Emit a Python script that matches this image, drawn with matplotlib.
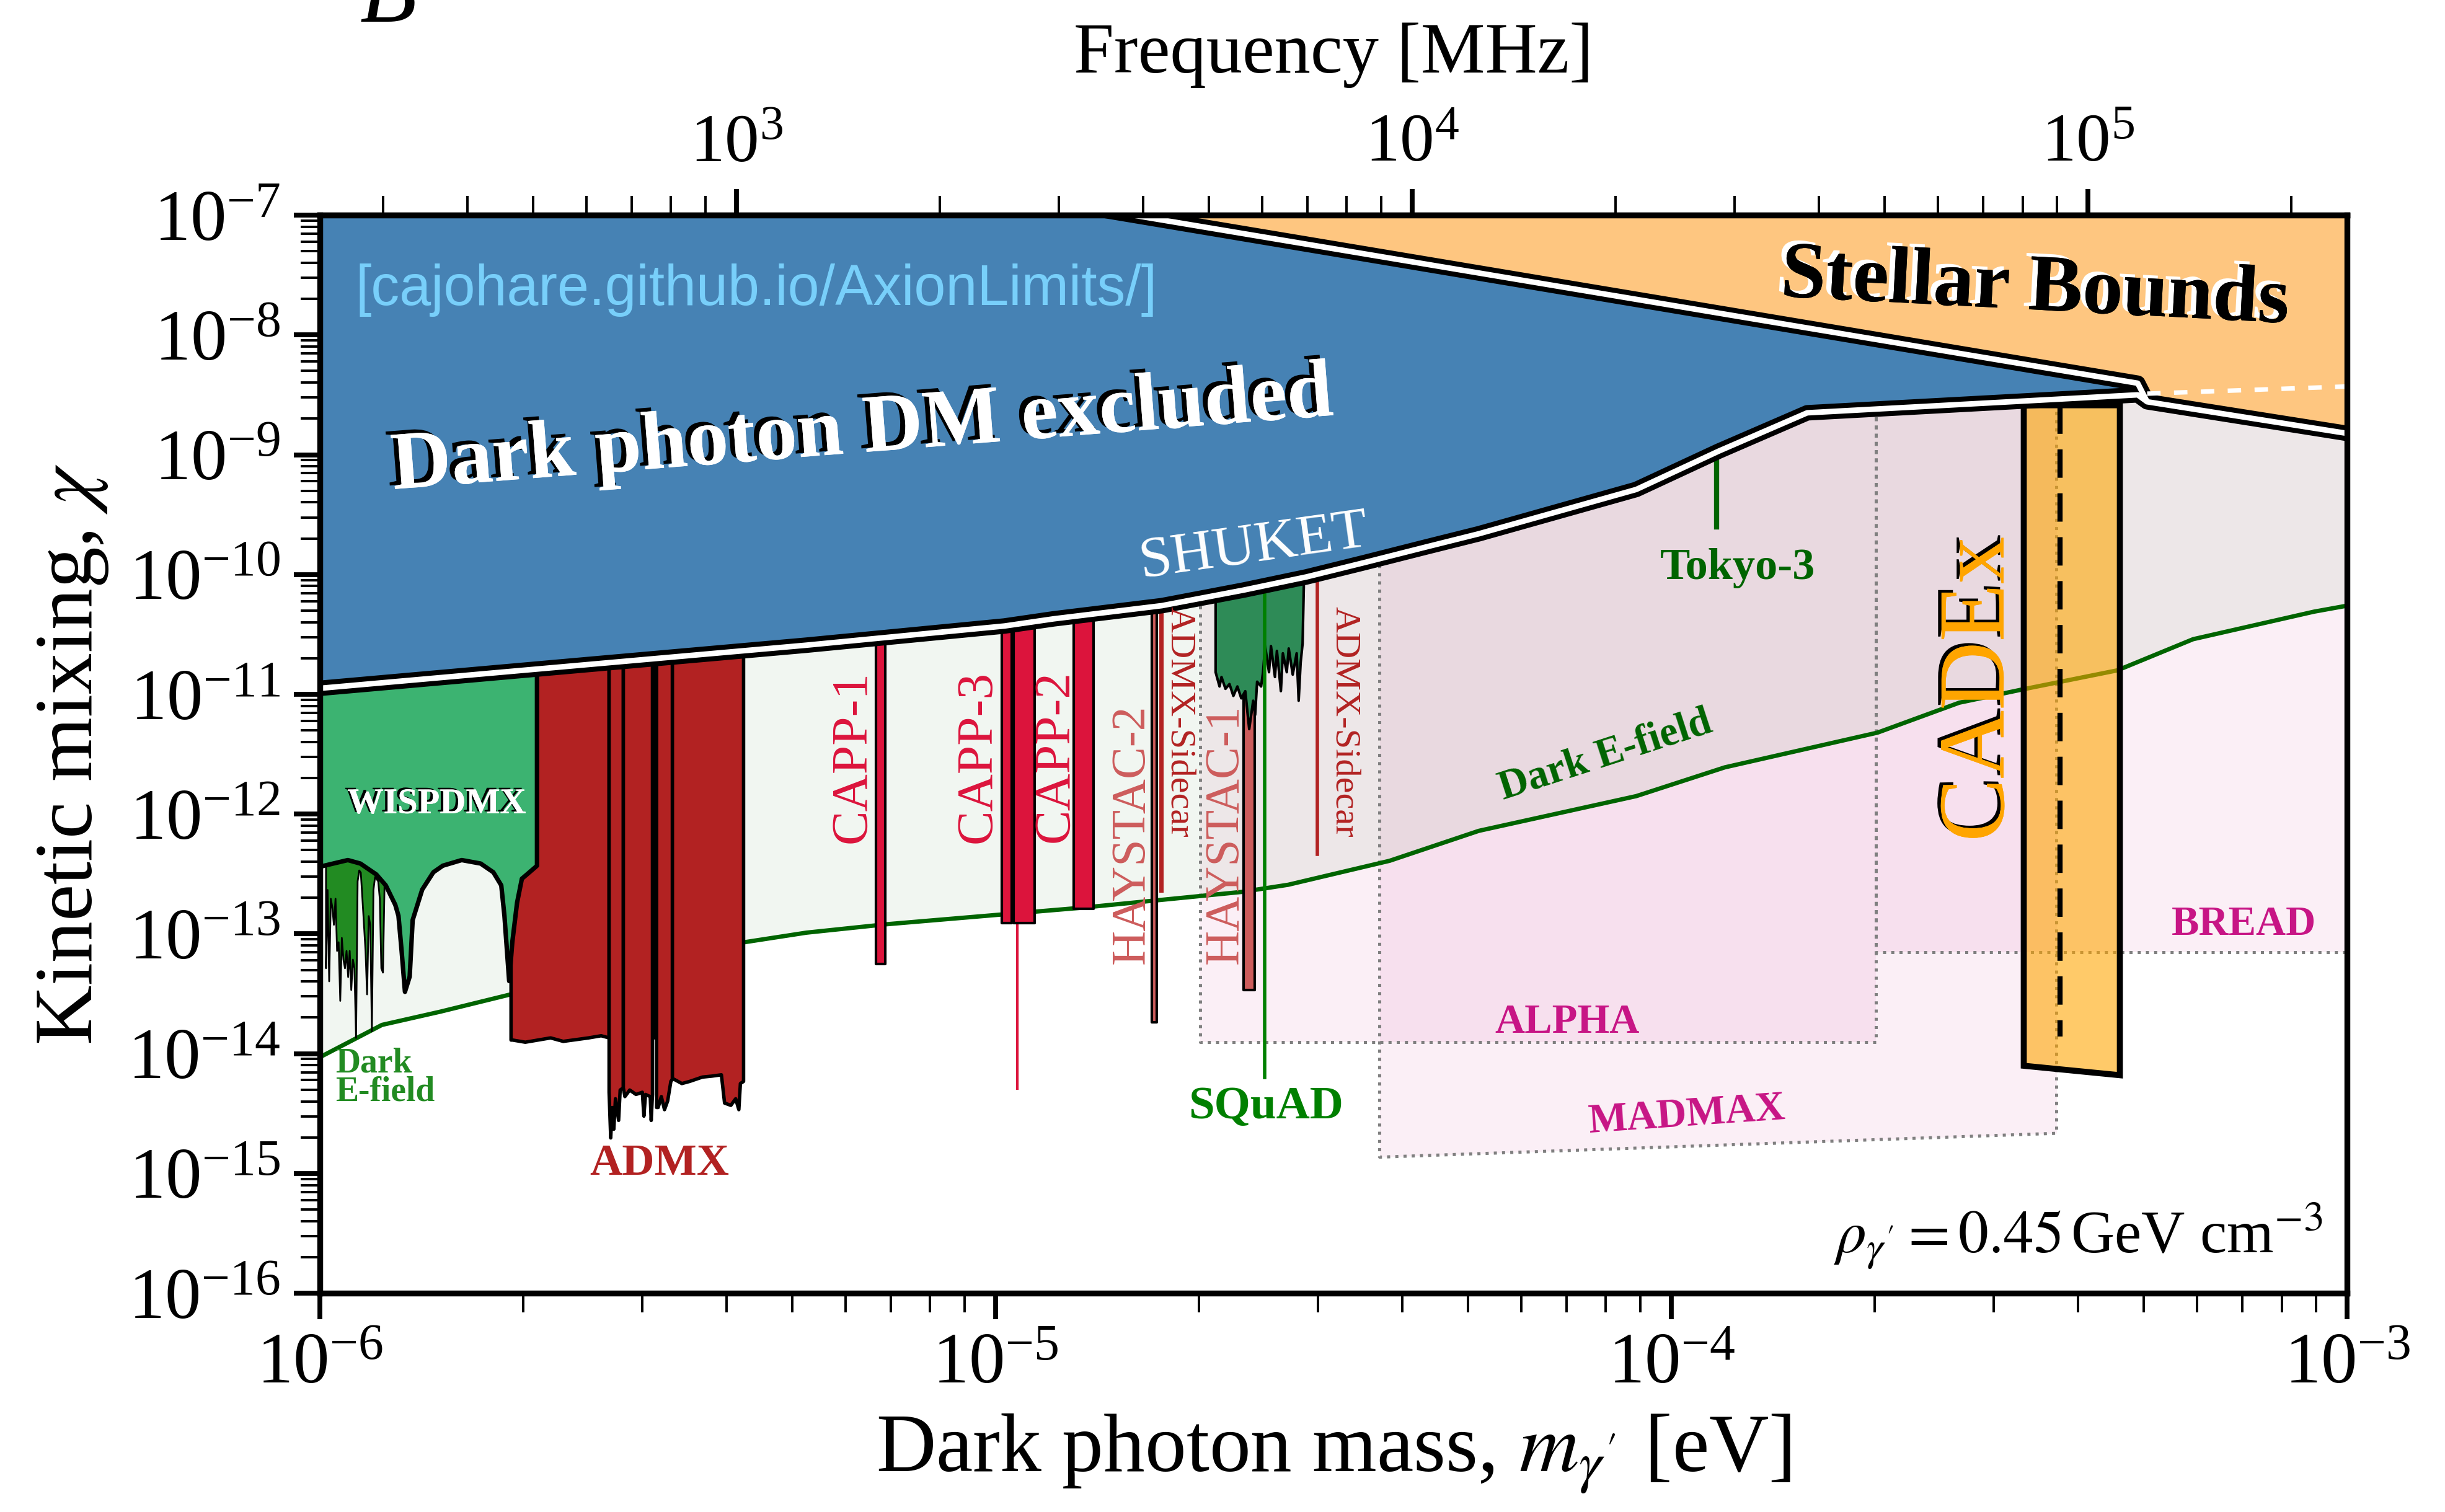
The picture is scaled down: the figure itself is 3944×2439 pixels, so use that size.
import numpy as np
import matplotlib
matplotlib.use("Agg")
import matplotlib.pyplot as plt
import matplotlib.patheffects as pe
from matplotlib.ticker import LogLocator, NullFormatter, FixedLocator

plt.rcParams["font.family"] = "serif"
plt.rcParams["font.serif"] = ["Liberation Serif", "DejaVu Serif"]
plt.rcParams["mathtext.fontset"] = "stix"

# all values are log10(mass / eV) and log10(chi)

# lower edge of the "dark photon DM excluded" region
excl_logm = [-6.0, -5.6, -5.28, -4.987, -4.914, -4.754, -4.633, -4.54, -4.454,
             -4.363, -4.285, -4.052, -3.93, -3.799, -3.31]
excl_logchi = [-10.95, -10.75, -10.59, -10.43, -10.37, -10.26, -10.13, -10.02, -9.90,
               -9.77, -9.66, -9.29, -8.97, -8.65, -8.50]

# stellar bound: upper branch down to the kink, then continuing branch
stellar_logm = [-5.0, -4.786, -3.310, -3.296, -3.0]
stellar_logchi = [-6.808, -7.01, -8.403, -8.558, -8.822]
stellar_dash_logm = [-3.296, -3.0]
stellar_dash_logchi = [-8.49, -8.43]

# dark E-field
efield_logm = [-6.0, -5.908, -5.822, -5.721, -5.372, -5.280, -5.162, -4.869, -4.636,
               -4.567, -4.417, -4.285, -4.052, -3.921, -3.695, -3.574, -3.481,
               -3.340, -3.228, -3.049, -3.0]
efield_logchi = [-14.03, -13.76, -13.65, -13.51, -13.07, -12.99, -12.92, -12.78, -12.65,
                 -12.59, -12.39, -12.14, -11.85, -11.61, -11.32, -11.07, -10.96,
                 -10.80, -10.54, -10.31, -10.26]

# dark E-field spikes at the low mass end
spike_logm = [-5.9913, -5.9889, -5.9866, -5.9842, -5.9819, -5.9796, -5.9772, -5.9749,
              -5.9726, -5.9702, -5.9679, -5.9655, -5.9632, -5.9609, -5.9585, -5.9562,
              -5.9539, -5.9515, -5.9492, -5.9468, -5.9445, -5.9421, -5.9398, -5.9374,
              -5.9351, -5.9328, -5.9305, -5.9281, -5.9258, -5.9234, -5.9211, -5.9187,
              -5.9140, -5.9117, -5.9094, -5.9070, -5.9047]
spike_logchi = [-13.285, -12.631, -13.394, -12.704, -12.776, -12.922, -12.704, -13.140,
                -13.067, -13.557, -13.031, -13.212, -13.285, -13.140, -13.358, -13.140,
                -13.466, -13.212, -13.285, -13.866, -12.559, -12.468, -12.486, -12.704,
                -12.922, -13.140, -13.503, -12.849, -12.922, -13.811, -12.631, -12.522,
                -12.559, -12.704, -13.285, -13.321, -12.595]

# WISPDMX
wisp_logm = [-6.0, -5.9936, -5.9585, -5.940, -5.9164, -5.9024, -5.8883, -5.8836, -5.879,
             -5.874, -5.867, -5.8626, -5.8485, -5.832, -5.818, -5.790, -5.762, -5.7432,
             -5.7315, -5.7268, -5.7198, -5.7151, -5.7081, -5.701, -5.6824, -5.6786]
wisp_logchi = [-12.44, -12.431, -12.384, -12.413, -12.504, -12.595, -12.758, -12.849,
               -13.139, -13.484, -13.357, -12.885, -12.631, -12.486, -12.431, -12.384,
               -12.413, -12.486, -12.595, -12.849, -13.394, -13.067, -12.740, -12.540,
               -12.450, -12.431]

# ADMX segments (mass, lower edge)
admx_a_logm = [-5.7175, -5.7151, -5.6964, -5.6589, -5.6402, -5.6028, -5.5841, -5.5724]
admx_a_logchi = [-13.884, -13.884, -13.902, -13.866, -13.895, -13.866, -13.848, -13.866]
admx_b_logm = [-5.5724, -5.5700, -5.5677, -5.5654, -5.5630, -5.5583, -5.5560, -5.5513]
admx_b_logchi = [-14.320, -14.701, -14.447, -14.628, -14.374, -14.555, -14.301, -14.283]
admx_c_logm = [-5.5513, -5.5490, -5.5419, -5.5326, -5.5232, -5.5209, -5.5185, -5.5115,
               -5.5101, -5.5082]
admx_c_logchi = [-14.283, -14.356, -14.301, -14.338, -14.320, -14.519, -14.338, -14.356,
                 -14.555, -14.338]
admx_d_logm = [-5.5068, -5.5031]
admx_d_logchi = [-13.866, -13.866]
admx_e_logm = [-5.5021, -5.4998, -5.4951, -5.4904, -5.4857, -5.4810, -5.4787]
admx_e_logchi = [-14.447, -14.447, -14.356, -14.465, -14.392, -14.229, -14.211]
admx_f_logm = [-5.4787, -5.4764, -5.4647, -5.4530, -5.4343, -5.4202, -5.4062, -5.4015,
               -5.3922, -5.3851, -5.3804, -5.3781, -5.3734]
admx_f_logchi = [-14.211, -14.211, -14.247, -14.229, -14.193, -14.185, -14.174, -14.410,
                 -14.429, -14.374, -14.465, -14.247, -14.229]

# narrow haloscope bars: (low mass, high mass, lower edge)
capp1_bar = (-5.1771, -5.1637, -13.249)
capp3_bars = [(-4.9911, -4.9765, -12.912), (-4.9735, -4.9425, -12.912)]
capp3_line = (-4.9677, -14.291)
capp2_bar = (-4.8840, -4.8553, -12.793)
haystac2_bar = (-4.7687, -4.7611, -13.736)
sidecar1_bar = (-4.7582, -4.7512, -12.655)
haystac1_bar = (-4.6330, -4.6166, -13.467)
squad_line = (-4.6020, -14.200)
sidecar2_line = (-4.5242, -12.338)
tokyo3_line = (-3.9336, -8.98, -9.604)

# SQuAD
squad_logm = [-4.6749, -4.6691, -4.6662, -4.6603, -4.6544, -4.6486, -4.6427, -4.6369,
              -4.6310, -4.6252, -4.6193, -4.6164, -4.6135, -4.6076, -4.6047, -4.6017,
              -4.5959, -4.5930, -4.5871, -4.5842, -4.5783, -4.5754, -4.5696, -4.5667,
              -4.5608, -4.5550, -4.5520, -4.5491, -4.5462, -4.5444]
squad_logchi = [-10.813, -10.932, -10.853, -10.952, -10.912, -11.011, -10.932, -11.031,
                -10.971, -11.288, -11.051, -11.169, -10.892, -10.932, -10.813, -10.595,
                -10.813, -10.595, -10.853, -10.635, -10.971, -10.655, -10.813, -10.615,
                -10.833, -10.655, -11.051, -10.734, -10.575, -10.100]

# projections: (low mass, high mass, lower edge at low mass, lower edge at high mass)
alpha_box = (-4.697, -3.697, -13.902, -13.902)
madmax_box = (-4.4317, -3.430, -14.864, -14.665)
bread_box = (-3.697, -3.0, -13.154, -13.154)

# CADEx: (low mass, high mass, top, bottom at low mass, bottom at high mass)
cadex_box = (-3.4786, -3.3364, -8.587, -14.101, -14.180)
cadex_line = (-3.4253, -8.587, -13.856)

freq_ticks = [1e3, 1e4, 1e5]


def p(v):
    return 10.0 ** np.asarray(v, dtype=float)


TOP = 1e-6

fig = plt.figure(figsize=(19.72, 12.195), dpi=200)
ax = fig.add_axes([0.1308, 0.1447, 0.8292, 0.7130])
ax.set_xscale("log")
ax.set_yscale("log")

# projections
pink = "mediumvioletred"
for lo, hi, bl, br in [alpha_box, madmax_box, bread_box]:
    ax.fill_between(p([lo, hi]), p([bl, br]), TOP, color=pink, alpha=0.065, lw=0, zorder=1)
    ax.plot(p([lo, lo, hi, hi]), p([-8, bl, br, -8]), ls=":", color="grey", lw=1.8, zorder=1.2)

# dark E-field
ax.fill_between(p(efield_logm), p(efield_logchi), TOP, color="darkgreen", alpha=0.055, lw=0, zorder=1.1)
ax.plot(p(efield_logm), p(efield_logchi), color="darkgreen", lw=2.5, zorder=1.3)
ax.fill_between(p(spike_logm), p(spike_logchi), 1e-12, facecolor="forestgreen",
                edgecolor="k", lw=1.0, zorder=1.5)

# ADMX
for xs, ys in [(admx_a_logm, admx_a_logchi), (admx_b_logm, admx_b_logchi),
               (admx_c_logm, admx_c_logchi), (admx_d_logm, admx_d_logchi),
               (admx_e_logm, admx_e_logchi), (admx_f_logm, admx_f_logchi)]:
    ax.fill_between(p(xs), p(ys), 1e-8, facecolor="firebrick", edgecolor="k", lw=2.0, zorder=1.5)

# CAPP, HAYSTAC, ADMX-Sidecar
for lo, hi, b in [capp1_bar, capp2_bar] + capp3_bars:
    ax.fill_between(p([lo, hi]), p([b, b]), 1e-8, facecolor="crimson", edgecolor="k", lw=1.5, zorder=1.5)
ax.plot(p([capp3_line[0]] * 2), p([capp3_line[1], -9]), color="crimson", lw=1.5, zorder=1.4)
for lo, hi, b in [haystac2_bar, haystac1_bar]:
    ax.fill_between(p([lo, hi]), p([b, b]), 1e-8, facecolor="indianred", edgecolor="k", lw=1.5, zorder=1.5)
ax.fill_between(p(sidecar1_bar[:2]), p([sidecar1_bar[2]] * 2), 1e-8, color="firebrick", lw=0, zorder=1.5)
ax.plot(p([sidecar2_line[0]] * 2), p([sidecar2_line[1], -9]), color="firebrick", lw=2.0, zorder=1.4)

# SQuAD
ax.fill_between(p(squad_logm), p(squad_logchi), 1e-8, facecolor="seagreen", edgecolor="k", lw=1.5, zorder=1.6)
ax.plot(p([squad_line[0]] * 2), p([squad_line[1], -9]), color="green", lw=2.0, zorder=1.7)

# Tokyo-3
ax.plot(p([tokyo3_line[0]] * 2), p(tokyo3_line[1:]), color="darkgreen", lw=3.0, zorder=1.7)

# WISPDMX
ax.fill_between(p(wisp_logm), p(wisp_logchi), 1e-8, color="mediumseagreen", lw=0, zorder=1.9)
ax.plot(p(wisp_logm + [wisp_logm[-1]]), p(wisp_logchi + [-10.6]), color="k", lw=2.6, zorder=1.95)

# CADEx
lo, hi, top, bl, br = cadex_box
ax.fill(p([lo, hi, hi, lo]), p([top, top, br, bl]), facecolor=(1.0, 0.647, 0.0, 0.59),
        edgecolor="k", lw=3.5, zorder=2.0)
ax.plot(p([cadex_line[0]] * 2), p(cadex_line[1:]), color="k", lw=3.0, dashes=(5.5, 3), zorder=2.05)

# excluded region and stellar bounds
ax.fill_between(p(excl_logm), p(excl_logchi), TOP, color="steelblue", lw=0, zorder=2.1)
ax.fill_between(p(stellar_logm), p(stellar_logchi), TOP, color="#fec680", lw=0, zorder=2.2)

line_a_m = p(excl_logm + stellar_logm[3:])
line_a_c = p(excl_logchi + stellar_logchi[3:])
line_b_m = p(stellar_logm[:4])
line_b_c = p(stellar_logchi[:4])
for lw, col, z in [(9.0, "k", 2.3), (3.2, "w", 2.4)]:
    ax.plot(line_a_m, line_a_c, color=col, lw=lw, zorder=z, solid_capstyle="butt")
    ax.plot(line_b_m, line_b_c, color=col, lw=lw, zorder=z, solid_capstyle="butt")
ax.plot(p(stellar_dash_logm), p(stellar_dash_logchi), color="w", lw=2.6, dashes=(3, 3), zorder=2.45)

# text labels
shadow_k = [pe.withSimplePatchShadow(offset=(-3.0, 2.0), shadow_rgbFace="k", alpha=1.0), pe.Normal()]
shadow_w = [pe.withSimplePatchShadow(offset=(-3.0, 2.0), shadow_rgbFace="w", alpha=1.0), pe.Normal()]
shadow_small = [pe.withSimplePatchShadow(offset=(-1.5, 1.0), shadow_rgbFace="k", alpha=1.0), pe.Normal()]


def label(text, lm, lc, **kw):
    kw.setdefault("ha", "center")
    kw.setdefault("va", "center")
    kw.setdefault("zorder", 5)
    return ax.text(10 ** lm, 10 ** lc, text, **kw)


label("Dark photon DM excluded", -5.197, -8.81, color="w", fontsize=48, fontweight="bold",
      rotation=4.5, path_effects=shadow_k)
label("Stellar Bounds", -3.462, -7.625, color="k", fontsize=47, fontweight="bold",
      rotation=-3, path_effects=shadow_w)
label("[cajohare.github.io/AxionLimits/]", -5.947, -7.625, ha="left", color="#78cffa",
      fontsize=33, family=["Liberation Sans Narrow", "Liberation Sans", "DejaVu Sans"])
label("SHUKET", -4.618, -9.773, color="w", fontsize=34, rotation=8)
label("WISPDMX", -5.827, -11.92, color="w", fontsize=21, fontweight="bold", path_effects=shadow_small)
label("Dark\nE-field", -5.977, -14.20, ha="left", color="forestgreen", fontsize=20,
      fontweight="bold", linespacing=0.85)
label("ADMX", -5.497, -14.92, color="firebrick", fontsize=26, fontweight="bold")
label("CAPP-1", -5.2116, -11.52, color="crimson", fontsize=30, rotation=90)
label("CAPP-3", -5.026, -11.52, color="crimson", fontsize=30, rotation=90)
label("CAPP-2", -4.911, -11.52, color="crimson", fontsize=30, rotation=90)
label("HAYSTAC-2", -4.798, -12.17, color="indianred", fontsize=28, rotation=90)
label("HAYSTAC-1", -4.660, -12.17, color="indianred", fontsize=28, rotation=90)
label("ADMX-Sidecar", -4.728, -11.23, color="firebrick", fontsize=21, rotation=-90)
label("ADMX-Sidecar", -4.484, -11.23, color="firebrick", fontsize=21, rotation=-90)
label("SQuAD", -4.600, -14.448, color="green", fontsize=27, fontweight="bold")
label("Tokyo-3", -3.902, -9.949, color="darkgreen", fontsize=26, fontweight="bold")
label("Dark E-field", -4.098, -11.512, color="darkgreen", fontsize=24, fontweight="bold", rotation=18)
label("CADEx", -3.542, -10.958, color="orange", fontsize=55, rotation=90,
      path_effects=[pe.withSimplePatchShadow(offset=(-2.0, 1.5), shadow_rgbFace="k", alpha=1.0), pe.Normal()])
label("BREAD", -3.153, -12.922, color=pink, fontsize=24, fontweight="bold")
label("ALPHA", -4.154, -13.741, color=pink, fontsize=24, fontweight="bold")
label("MADMAX", -3.977, -14.518, color=pink, fontsize=24, fontweight="bold", rotation=4)
ax.text(0.988, 0.0376, r"$\rho_{\gamma'} = 0.45\,$GeV cm$^{-3}$", transform=ax.transAxes,
        ha="right", va="baseline", fontsize=35, zorder=5)

# axes
ax.set_xlim(1e-6, 1e-3)
ax.set_ylim(1e-16, 1e-7)
ax.xaxis.set_major_locator(LogLocator(base=10, numticks=10))
ax.xaxis.set_minor_locator(LogLocator(base=10, subs=np.arange(2, 10), numticks=100))
ax.yaxis.set_major_locator(LogLocator(base=10, numticks=20))
ax.yaxis.set_minor_locator(LogLocator(base=10, subs=np.arange(2, 10), numticks=100))
ax.yaxis.set_minor_formatter(NullFormatter())
ax.xaxis.set_minor_formatter(NullFormatter())
ax.tick_params(which="major", direction="out", length=15, width=2.8, labelsize=42, pad=8,
               top=False, right=False)
ax.tick_params(which="minor", direction="out", length=11, width=1.4, top=False, right=False)
ax.set_xlabel(r"Dark photon mass, $m_{\gamma'}$ [eV]", fontsize=48, labelpad=8)
ax.set_ylabel(r"Kinetic mixing, $\chi$", fontsize=48, labelpad=10)
for sp in ax.spines.values():
    sp.set_linewidth(3.4)
    sp.set_zorder(10)

secax = ax.secondary_xaxis("top", functions=(lambda m: m * 2.418e8, lambda f: f / 2.418e8))
secax.xaxis.set_major_locator(FixedLocator(freq_ticks))
secax.xaxis.set_minor_locator(LogLocator(base=10, subs=np.arange(2, 10), numticks=100))
secax.xaxis.set_minor_formatter(NullFormatter())
secax.tick_params(which="major", direction="out", length=15, width=2.8, labelsize=40, pad=8)
secax.tick_params(which="minor", direction="out", length=11, width=1.4)
secax.set_xlabel("Frequency [MHz]", fontsize=42, labelpad=24)
secax.spines["top"].set_linewidth(3.4)

# panel letter, cut by the top edge as in the original
fig.text(0.1473, 0.9856, "B", fontsize=54, style="italic", ha="left", va="baseline")

fig.savefig("out.png", dpi=200)
